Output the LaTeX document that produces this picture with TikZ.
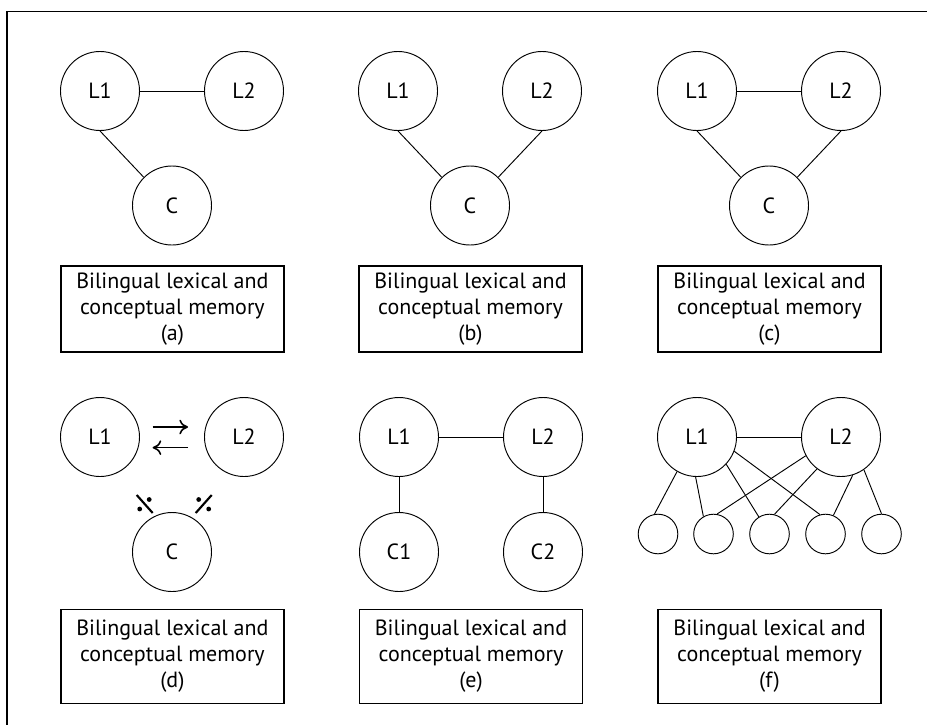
\documentclass[tikz,border=0pt]{standalone}
\usepackage{fontspec}
\setmainfont{PT Sans}
\usepackage{tikz}
\usetikzlibrary{arrows.meta}

\begin{document}
\begin{tikzpicture}[x=0.75pt, y=-0.75pt,
  every node/.style = {font=\fontsize{16.5}{19.5}\selectfont},
  lang/.style = {draw, circle, line width=0.7pt, inner sep=0pt, minimum size=59.25pt},
  small/.style = {draw, circle, line width=0.7pt, inner sep=0pt, minimum size=29.7pt},
  caption/.style = {draw, line width=0.9pt, align=center, inner sep=0pt, minimum width=167.25pt, minimum height=#1},
  link/.style = {line width=0.7pt},
  cut/.style = {line width=1.6pt},
  swap/.style = {line width=1.2pt, -{To[length=6.5pt,width=11pt]}}
]
\useasboundingbox (0,0) rectangle (927,725);
\draw[line width=1pt] (927,11.5) -- (7,11.5) -- (7,725);

% (a)
\node[lang] (aL1) at (100,91) {L1};
\node[lang] (aL2) at (244,91) {L2};
\node[lang] (aC) at (172,205.5) {C};
\draw[link] (aL1) -- (aL2);
\draw[link] (aL1.south) -- (aC.135);
\node[caption=64.5pt] (acap) at (172.4,309) {Bilingual lexical and\\conceptual memory\\(a)};

% (b)
\node[lang] (bL1) at (398,91) {L1};
\node[lang] (bL2) at (542,91) {L2};
\node[lang] (bC) at (470,205.5) {C};
\draw[link] (bL1.south) -- (bC.135);
\draw[link] (bL2.south) -- (bC.45);
\node[caption=64.5pt] (bcap) at (470.5,309) {Bilingual lexical and\\conceptual memory\\(b)};

% (c)
\node[lang] (cL1) at (697,91) {L1};
\node[lang] (cL2) at (841,91) {L2};
\node[lang] (cC) at (769,205.5) {C};
\draw[link] (cL1) -- (cL2);
\draw[link] (cL1.south) -- (cC.135);
\draw[link] (cL2.south) -- (cC.45);
\node[caption=64.5pt] (ccap) at (769.5,309) {Bilingual lexical and\\conceptual memory\\(c)};

% (d)
\node[lang] (dL1) at (100,437) {L1};
\node[lang] (dL2) at (244,437) {L2};
\node[lang] (dC) at (172,552) {C};
\draw[swap, shorten <=9.5pt, shorten >=12pt] ([yshift=7.5pt]dL1.east) -- ([yshift=7.5pt]dL2.west);
\draw[swap, shorten <=12pt, shorten >=9.5pt] ([yshift=-8pt]dL2.west) -- ([yshift=-8pt]dL1.east);
\coordinate (brkL) at (144.7,504);
\coordinate (brkR) at (203.7,504);
\draw[cut] ([shift={(-8,-9)}]brkL) -- ([shift={(8,9)}]brkL);
\fill ([shift={(4.5,-4.5)}]brkL) circle (1.8pt);
\fill ([shift={(-5,5)}]brkL) circle (1.8pt);
\draw[cut] ([shift={(-8,9)}]brkR) -- ([shift={(8,-9)}]brkR);
\fill ([shift={(-5,-4.5)}]brkR) circle (1.8pt);
\fill ([shift={(5,5)}]brkR) circle (1.8pt);
\node[caption=70.5pt] (dcap) at (172.4,656.5) {Bilingual lexical and\\conceptual memory\\(d)};

% (e)
\node[lang] (eL1) at (399,437) {L1};
\node[lang] (eL2) at (543,437) {L2};
\node[lang] (eC1) at (399,552) {C1};
\node[lang] (eC2) at (543,552) {C2};
\draw[link] (eL1) -- (eL2);
\draw[link] (eL1) -- (eC1);
\draw[link] (eL2) -- (eC2);
\node[caption=70.5pt] (ecap) at (471,656.5) {Bilingual lexical and\\conceptual memory\\(e)};

% (f)
\node[lang] (fL1) at (697,437) {L1};
\node[lang] (fL2) at (841,437) {L2};
\node[small] (s1) at (658,534) {};
\node[small] (s2) at (713.5,534) {};
\node[small] (s3) at (769.5,534) {};
\node[small] (s4) at (825.5,534) {};
\node[small] (s5) at (881.5,534) {};
\draw[link] (fL1) -- (fL2);
\draw[link] (fL1.240) -- (s1.100);
\draw[link] (fL1.268) -- (s2.120);
\draw[link] (fL1.317) -- (s3.122);
\draw[link] (fL1.339) -- (s4.106);
\draw[link] (fL2.208) -- (s2.80);
\draw[link] (fL2.233) -- (s3.76);
\draw[link] (fL2.287) -- (s4.67);
\draw[link] (fL2.305) -- (s5.north);
\node[caption=70.5pt] (fcap) at (769.5,656.5) {Bilingual lexical and\\conceptual memory\\(f)};

\end{tikzpicture}
\end{document}
